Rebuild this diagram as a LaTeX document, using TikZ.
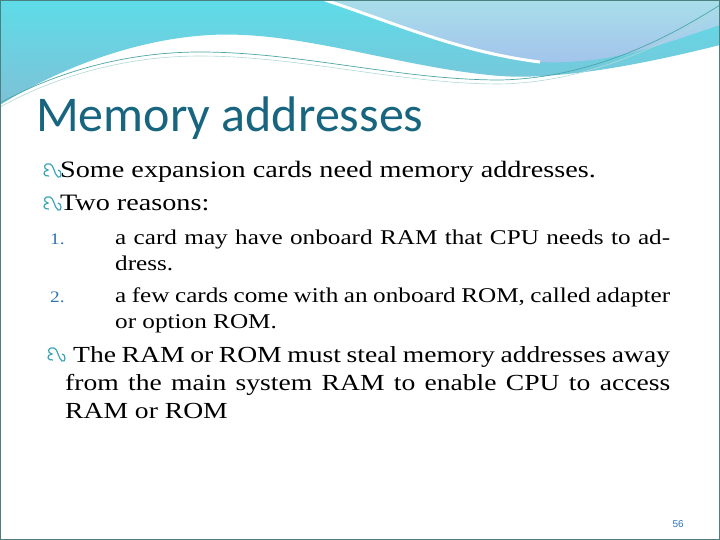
\documentclass[tikz,border=0pt]{standalone}
\usepackage{fontspec}
\setmainfont[FakeStretch=1.2]{Liberation Serif}
\newfontfamily\titlefont{Carlito}
\newfontfamily\numfont{Liberation Sans}
\definecolor{bul}{HTML}{3BA5B8}
\definecolor{ttl}{HTML}{17657F}
\definecolor{numc}{HTML}{2E74B5}
\definecolor{bandA}{HTML}{7EC1D6}
\definecolor{bandB}{HTML}{5EDCE8}
\definecolor{bandC}{HTML}{A8DEEA}
\tikzset{body/.style={anchor=base west,inner sep=0pt,font=\fontsize{23.5}{28}\selectfont,align=justify},
item/.style={anchor=base west,inner sep=0pt,font=\fontsize{21}{26}\selectfont,align=justify,text width=555pt},
curl/.style={bul,line width=1.2pt},
nummark/.style={anchor=base west,inner sep=0pt,text=numc,font=\fontsize{16}{16}\selectfont}}
\newcommand{\curlmark}[2]{%
\draw[curl] (#1+7,#2-2) .. controls (#1+1,#2-1) and (#1,#2-7) .. (#1+6,#2-8) .. controls (#1+1,#2-9) and (#1+1,#2-15) .. (#1+8,#2-14) .. controls (#1+12,#2-13) and (#1+12,#2-4) .. (#1+16,#2-1) .. controls (#1+20,#2+1) and (#1+20,#2-8) .. (#1+16,#2-8);}
\begin{document}
\begin{tikzpicture}[x=1pt,y=-1pt]
\useasboundingbox (0,0) rectangle (720,540);
\fill[white] (0,0) rectangle (720,540);
% top band
\shade[left color=bandB,right color=bandA,shading angle=0] (0,0) -- (720,0) -- (720,45) .. controls (640,65) and (560,80) .. (500,76) .. controls (400,68) and (300,30) .. (210,35) .. controls (120,40) and (40,80) .. (0,105) -- cycle;
\shade[top color=bandC,bottom color=bandA!80!blue!60] (330,0) -- (720,0) -- (720,25) .. controls (660,45) and (610,65) .. (540,62) .. controls (460,50) and (400,25) .. (330,0) -- cycle;
\draw[white,line width=3pt] (325,0) .. controls (400,25) and (460,52) .. (540,62);
\draw[teal!70,line width=0.7pt] (0,103) .. controls (60,70) and (130,52) .. (200,52) .. controls (300,52) and (400,80) .. (500,80) .. controls (600,78) and (680,30) .. (720,5);
\draw[white!70!teal,line width=0.6pt] (0,107) .. controls (60,74) and (130,56) .. (200,56) .. controls (300,56) and (400,84) .. (500,84) .. controls (600,82) and (680,34) .. (720,12);
\draw[teal!40!gray,line width=0.8pt] (0.4,0.4) rectangle (719.6,539.6);
% title
\node[anchor=base west,inner sep=0pt,text=ttl,font=\titlefont\fontsize{50}{50}\selectfont] (title) at (36,132) {Memory addresses};
% bullets
\curlmark{42}{178}
\node[body] (t1) at (60,178) {Some expansion cards need memory addresses.};
\curlmark{42}{211}
\node[body] (t2) at (60,211) {Two reasons:};
\node[nummark] (n1) at (50,244) {1.};
\node[item] (i1) at (115,244) {a card may have onboard RAM that CPU needs to address.};
\node[nummark] (n2) at (50,302) {2.};
\node[item] (i2) at (115,302) {a few cards come with an onboard ROM, called adapter or option ROM.};
\curlmark{46}{362}
\node[body,font=\fontsize{23}{28}\selectfont,text width=605pt] (t3) at (65,362) {\hspace*{8pt}The RAM or ROM must steal memory addresses away from the main system RAM to enable CPU to access RAM or ROM};
\node[anchor=base east,inner sep=0pt,text=numc,font=\numfont\fontsize{10}{10}\selectfont] (pg) at (684,527) {56};
\end{tikzpicture}
\end{document}
